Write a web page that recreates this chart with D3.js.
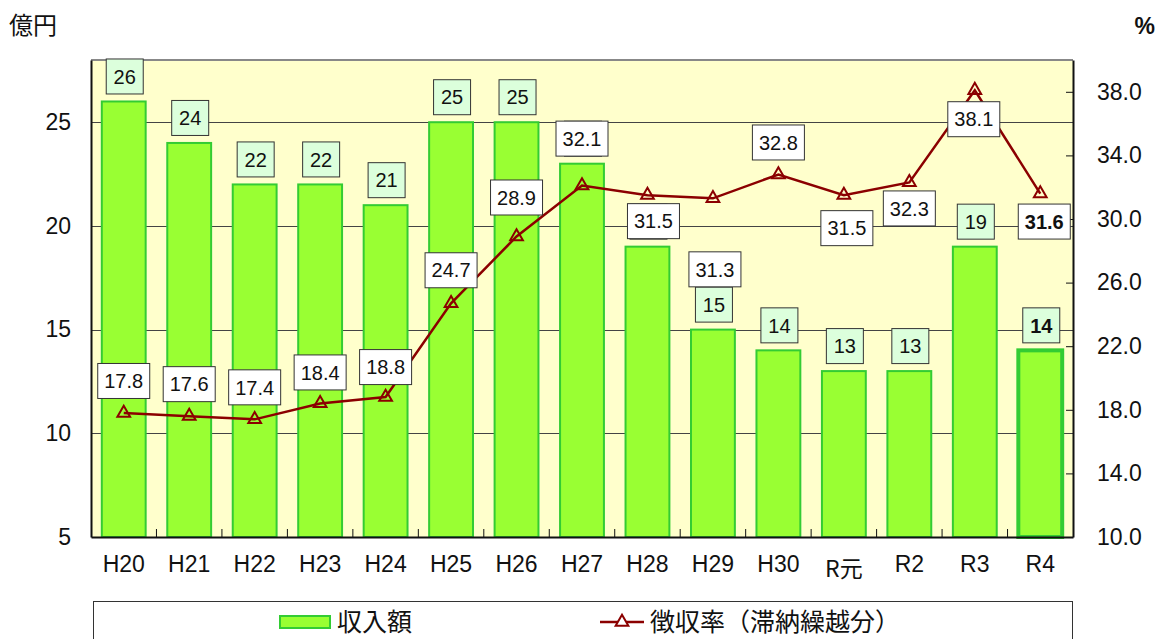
<!DOCTYPE html>
<html lang="ja">
<head>
<meta charset="utf-8">
<script src="https://cdn.jsdelivr.net/npm/d3@7.9.0/dist/d3.min.js"></script>
<style>
  body { margin: 0; background: #fff; }
  svg text { font-family: "Liberation Sans Narrow", "Liberation Sans", Arial, sans-serif; fill: #111; }
  svg text.jp { font-family: "Noto Sans CJK JP", sans-serif; }
</style>
</head>
<body>
<svg id="chart" width="1162" height="639"></svg>
<script>
// data
const years = ['H20', 'H21', 'H22', 'H23', 'H24', 'H25', 'H26', 'H27', 'H28', 'H29', 'H30', 'R元', 'R2', 'R3', 'R4'];
const income = [26, 24, 22, 22, 21, 25, 25, 23, 19, 15, 14, 13, 13, 19, 14];
const rate = [17.8, 17.6, 17.4, 18.4, 18.8, 24.7, 28.9, 32.1, 31.5, 31.3, 32.8, 31.5, 32.3, 38.1, 31.6];
const leftTicks = [5, 10, 15, 20, 25];
const rightTicks = [10, 14, 18, 22, 26, 30, 34, 38];

// the rate labels were placed by hand in the original, offsets from the marker
const rateLabelDx = [0, 0, 0, 0, 0, 0, 0, 0, 6, 2, 0, 3, 0, -1, 4];
const rateLabelDy = [-32, -32, -32, -31, -30, -33, -39, -47, 26, 71, -32, 33, 26, 29, 28];

const svg = d3.select('#chart');
const plot = { left: 91, right: 1073, top: 60, bottom: 537 };

const x = d3.scaleBand().domain(years).range([plot.left, plot.right]);
const yL = d3.scaleLinear().domain([5, 28]).range([plot.bottom, plot.top]);
const yR = d3.scaleLinear().domain([10, 40]).range([plot.bottom, plot.top]);
const barW = x.bandwidth() * 0.67;
const cx = (d) => x(d) + x.bandwidth() / 2;
const last = years.length - 1;

const lineColor = '#8b0000';

// plot background
svg.append('rect')
  .attr('x', plot.left).attr('y', plot.top)
  .attr('width', plot.right - plot.left).attr('height', plot.bottom - plot.top)
  .attr('fill', '#ffffcc');

// gridlines on the left axis values
svg.append('g').selectAll('line')
  .data(leftTicks.filter((t) => t > 5))
  .join('line')
  .attr('x1', plot.left).attr('x2', plot.right)
  .attr('y1', (d) => Math.round(yL(d)) + 0.5).attr('y2', (d) => Math.round(yL(d)) + 0.5)
  .attr('stroke', '#444').attr('stroke-width', 1);

// bars
svg.append('g').selectAll('rect')
  .data(income)
  .join('rect')
  .attr('x', (d, i) => cx(years[i]) - barW / 2)
  .attr('y', (d) => yL(d))
  .attr('width', barW)
  .attr('height', (d) => plot.bottom - yL(d))
  .attr('fill', '#99ff33')
  .attr('stroke', '#33cc33')
  .attr('stroke-width', (d, i) => i === last ? 4 : 2);

// frame and axes
svg.append('line')
  .attr('x1', plot.left).attr('x2', plot.right)
  .attr('y1', plot.top).attr('y2', plot.top)
  .attr('stroke', '#888').attr('stroke-width', 2);

const axisL = svg.append('g').attr('transform', `translate(${plot.left},0)`)
  .call(d3.axisLeft(yL).tickValues(leftTicks).tickSize(0).tickPadding(20).tickFormat(d3.format('d')));
const axisR = svg.append('g').attr('transform', `translate(${plot.right},0)`)
  .call(d3.axisRight(yR).tickValues(rightTicks).tickSizeInner(-7).tickSizeOuter(0).tickPadding(30).tickFormat(d3.format('.1f')));
const axisB = svg.append('g').attr('transform', `translate(0,${plot.bottom})`)
  .call(d3.axisBottom(x).tickSize(0).tickPadding(19));

[axisL, axisR, axisB].forEach((g) => {
  g.select('.domain').attr('stroke', '#111').attr('stroke-width', 2);
  g.selectAll('text').attr('font-size', 23).attr('fill', '#111');
});
axisL.selectAll('text').attr('text-anchor', 'end');
axisR.selectAll('line').attr('stroke', '#111');
axisR.selectAll('text').attr('x', 24);
axisB.selectAll('text').attr('dy', '0.71em')
  .filter((d) => /元/.test(d)).attr('class', 'jp').attr('dy', '0.9em');

// inner ticks between categories along the bottom
svg.append('g').selectAll('line')
  .data(years.slice(1))
  .join('line')
  .attr('x1', (d) => x(d)).attr('x2', (d) => x(d))
  .attr('y1', plot.bottom).attr('y2', plot.bottom - 8)
  .attr('stroke', '#111').attr('stroke-width', 1);

// rate line
const line = d3.line()
  .x((d, i) => cx(years[i]))
  .y((d) => yR(d));

svg.append('path')
  .datum(rate)
  .attr('d', line)
  .attr('fill', 'none')
  .attr('stroke', lineColor)
  .attr('stroke-width', 2.5);

const tri = d3.symbol().type(d3.symbolTriangle).size(70);
svg.append('g').selectAll('path')
  .data(rate)
  .join('path')
  .attr('d', tri)
  .attr('transform', (d, i) => `translate(${cx(years[i])},${yR(d)})`)
  .attr('fill', 'none')
  .attr('stroke', lineColor)
  .attr('stroke-width', 2);

// value boxes
function valueBox(g, px, py, w, h, text, fill, bold) {
  g.append('rect')
    .attr('x', px - w / 2).attr('y', py - h / 2)
    .attr('width', w).attr('height', h)
    .attr('fill', fill).attr('stroke', '#333').attr('stroke-width', 1);
  g.append('text')
    .attr('x', px).attr('y', py)
    .attr('text-anchor', 'middle').attr('dy', '0.36em')
    .attr('font-size', 20)
    .attr('font-weight', bold ? 'bold' : null)
    .text(text);
}

const barLabels = svg.append('g');
income.forEach((v, i) => {
  valueBox(barLabels, cx(years[i]) + 1, yL(v) - 25, 37, 35, v, '#dcffdc', i === last);
});

const rateLabels = svg.append('g');
rate.forEach((v, i) => {
  valueBox(rateLabels, cx(years[i]) + rateLabelDx[i], yR(v) + rateLabelDy[i], 52, 35, v.toFixed(1), '#fff', i === last);
});

// unit labels
svg.append('text').attr('class', 'jp').attr('x', 9).attr('y', 34)
  .attr('font-size', 24).text('億円');
svg.append('text').attr('x', 1155).attr('y', 34)
  .attr('text-anchor', 'end').attr('font-size', 23).attr('font-weight', 'bold').text('%');

// legend
const legend = svg.append('g');
legend.append('rect')
  .attr('x', 93.5).attr('y', 601.5).attr('width', 979).attr('height', 60)
  .attr('fill', '#fff').attr('stroke', '#333').attr('stroke-width', 1);

legend.append('rect')
  .attr('x', 280).attr('y', 616).attr('width', 50).attr('height', 12)
  .attr('fill', '#99ff33').attr('stroke', '#33cc33').attr('stroke-width', 2);
legend.append('text').attr('class', 'jp')
  .attr('x', 337).attr('y', 622).attr('dy', '0.36em')
  .attr('font-size', 25).text('収入額');

legend.append('line')
  .attr('x1', 600).attr('x2', 644).attr('y1', 622).attr('y2', 622)
  .attr('stroke', lineColor).attr('stroke-width', 2.5);
legend.append('path')
  .attr('d', tri)
  .attr('transform', 'translate(622,622)')
  .attr('fill', '#fff').attr('stroke', lineColor).attr('stroke-width', 2);
legend.append('text').attr('class', 'jp')
  .attr('x', 650).attr('y', 622).attr('dy', '0.36em')
  .attr('font-size', 25).text('徴収率（滞納繰越分）');
</script>
</body>
</html>
